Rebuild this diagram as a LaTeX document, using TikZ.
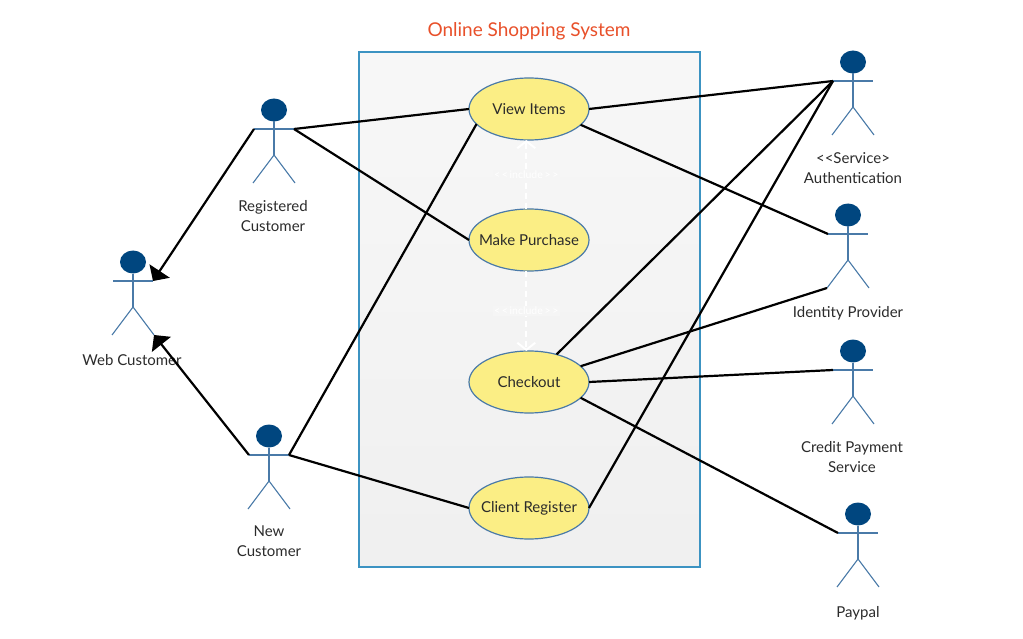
\documentclass[tikz,border=0pt]{standalone}
\usepackage{fontspec}
\setmainfont{Lato}
\usetikzlibrary{shapes.geometric,arrows.meta}

\definecolor{actorblue}{HTML}{00467F}
\definecolor{limbblue}{HTML}{4A7AA8}
\definecolor{boxblue}{HTML}{3C93C2}
\definecolor{caseyellow}{HTML}{FBEE85}
\definecolor{titlered}{HTML}{E8502A}
\definecolor{labelgrey}{HTML}{2B2B2B}

% name, x of the body, y of the head
\newcommand{\actor}[3]{
  \node[ellipse, fill=actorblue, minimum width=26pt, minimum height=23pt, inner sep=0pt, outer sep=0pt] (#1) at (#2,#3) {};
  \coordinate (#1L) at (#2-20,#3+19);
  \coordinate (#1R) at (#2+20,#3+19);
  \coordinate (#1C) at (#2,#3+45);
  \coordinate (#1A) at (#2-21,#3+73);
  \coordinate (#1B) at (#2+21,#3+73);
  \draw[limb] (#1L) -- (#1R);
  \draw[limb] (#1) -- (#1C);
  \draw[limb] (#1A) -- (#1C) -- (#1B);
}

\begin{document}
\begin{tikzpicture}[x=1pt, y=-1pt, semithick,
    limb/.style={draw=limbblue, line width=1.1pt},
    usecase/.style={ellipse, draw=limbblue, fill=caseyellow, line width=1.2pt, minimum width=120pt, minimum height=62pt, inner xsep=-10pt, inner ysep=0pt, outer sep=0pt, text=labelgrey, font=\fontsize{15}{18}\selectfont},
    who/.style={align=center, text=labelgrey, font=\fontsize{15}{20}\selectfont, inner sep=0pt},
    link/.style={draw=black, line width=2.2pt},
    inherit/.style={link, -{Triangle[length=12pt, width=24pt]}},
    incl/.style={draw=white, line width=2pt, dash pattern=on 6pt off 4pt, -{Straight Barb[length=7pt, width=18pt]}},
    incllabel/.style={text=white, fill=black!4, inner sep=1pt, font=\fontsize{10.5}{12}\selectfont}]

  \useasboundingbox (0,0) rectangle (1023,639);

  \node[draw=boxblue, line width=1.3pt, minimum width=341pt, minimum height=515pt, top color=black!3, bottom color=black!6, inner sep=0pt] (system) at (529.5,309.5) {};
  \node[text=titlered, font=\fontsize{19}{22}\selectfont, inner sep=0pt] (title) at (529,31) {Online Shopping System};

  \node[usecase] (view) at (529,109) {View Items};
  \node[usecase] (purchase) at (529,240) {Make Purchase};
  \node[usecase] (checkout) at (529,382) {Checkout};
  \node[usecase] (register) at (529,508) {Client Register};

  \actor{web}{133}{262}
  \actor{reg}{274}{110}
  \actor{new}{269}{436}
  \actor{auth}{853}{62}
  \actor{ident}{848}{215}
  \actor{credit}{853}{351}
  \actor{paypal}{858}{514}

  \node[who] (webText) at (132,360) {Web Customer};
  \node[who] (regText) at (273,216) {Registered\\Customer};
  \node[who] (newText) at (269,541) {New\\Customer};
  \node[who] (authText) at (853,168.5) {{<}{<}Service{>}\\Authentication};
  \node[who] (identText) at (848,313) {Identity Provider};
  \node[who] (creditText) at (852,457) {Credit Payment\\Service};
  \node[who] (paypalText) at (858,613) {Paypal};

  \draw[incl] (purchase.95) -- node[incllabel, pos=0.5] (inclA) {{<}\,{<}\,include\,{>}\,{>}} (view.265);
  \draw[incl] (purchase.265) -- node[incllabel, pos=0.5] (inclB) {{<}\,{<}\,include\,{>}\,{>}} (checkout.95);

  \draw[inherit] (regL) -- (webR);
  \draw[inherit] (newL) -- (webB);

  \draw[link] (regR) -- (view.west);
  \draw[link] (regR) -- (purchase.west);
  \draw[link] (newR) -- (view.196);
  \draw[link] (newR) -- (register.west);

  \draw[link] (view.east) -- (authL);
  \draw[link] (view.-17) -- (identL);
  \draw[link] (checkout.45) -- (authL);
  \draw[link] (checkout.17) -- (identA);
  \draw[link] (checkout.east) -- (creditL);
  \draw[link] (checkout.-17) -- (paypalL);
  \draw[link] (register.east) -- (authL);
\end{tikzpicture}
\end{document}
